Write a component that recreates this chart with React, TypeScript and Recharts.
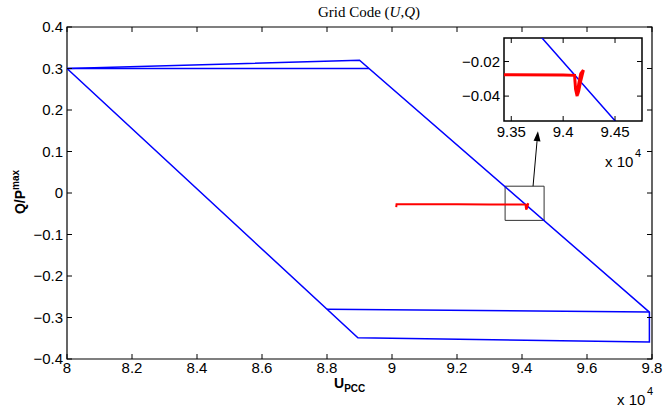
import React from 'react';
import { LineChart, Line, XAxis, YAxis, ReferenceArea, ReferenceLine } from 'recharts';

// ---- data (x in units of 10^4) ----
const loopX = [8.0, 8.9, 9.792, 9.792, 8.895, 8.0];
const loopY = [0.3, 0.32, -0.287, -0.359, -0.349, 0.3];
const topX = [8.0, 8.929];
const topY = [0.3, 0.3];
const lowX = [8.8, 9.792];
const lowY = [-0.28, -0.287];
const redX = [9.013, 9.014, 9.1, 9.2, 9.3, 9.35, 9.4, 9.411, 9.412, 9.4135, 9.415, 9.417, 9.4195, 9.417, 9.415, 9.414, 9.416, 9.418];
const redY = [-0.034, -0.027, -0.0272, -0.0274, -0.0276, -0.0277, -0.0278, -0.028, -0.036, -0.04, -0.033, -0.027, -0.025, -0.031, -0.037, -0.039, -0.032, -0.028];

const xTicks = [8, 8.2, 8.4, 8.6, 8.8, 9, 9.2, 9.4, 9.6, 9.8];
const yTicks = [-0.4, -0.3, -0.2, -0.1, 0, 0.1, 0.2, 0.3, 0.4];
const insetXTicks = [9.35, 9.4, 9.45];
const insetYTicks = [-0.04, -0.02];
const insetXDomain = [9.343, 9.476];
const insetYDomain = [-0.0544, -0.0064];
const zoomBoxX = [9.348, 9.468];
const zoomBoxY = [-0.066, 0.0164];
const arrowX = [9.434, 9.449];
const arrowY = [0.0164, 0.149];

const zip = (xs: number[], ys: number[]) => xs.map((x, i) => ({ x, y: ys[i] }));
const loopData = zip(loopX, loopY);
const topData = zip(topX, topY);
const lowData = zip(lowX, lowY);
const redData = zip(redX, redY);

const FONT = '"Liberation Sans", Arial, Helvetica, sans-serif';
const fmt = (v: number) => {
  const s = String(Number(v.toFixed(3)));
  return s.startsWith('-') ? '\u2212' + s.slice(1) : s;
};

// main plot frame (pixels)
const M = { top: 27, bottom: 359, left: 67, right: 652 };
// inset plot frame relative to its chart
const I = { top: 8, bottom: 91, left: 60, right: 198 };

const makeXTick = (F: typeof M) => (props: any) => {
  const { x, y, payload } = props;
  return (
    <g>
      <line x1={x} x2={x} y1={F.bottom} y2={F.bottom - 5} stroke="#000" />
      <line x1={x} x2={x} y1={F.top} y2={F.top + 5} stroke="#000" />
      <text x={x} y={y} dy="0.71em" textAnchor="middle" fontFamily={FONT} fontSize={15} fill="#000">
        {fmt(payload.value)}
      </text>
    </g>
  );
};
const makeYTick = (F: typeof M) => (props: any) => {
  const { x, y, payload } = props;
  return (
    <g>
      <line x1={F.left} x2={F.left + 5} y1={y} y2={y} stroke="#000" />
      <line x1={F.right} x2={F.right - 5} y1={y} y2={y} stroke="#000" />
      <text x={x} y={y} dy="0.355em" textAnchor="end" fontFamily={FONT} fontSize={15} fill="#000">
        {fmt(payload.value)}
      </text>
    </g>
  );
};

const Arrow = (props: any) => {
  const { x1, y1, x2, y2 } = props;
  const ang = Math.atan2(y2 - y1, x2 - x1);
  const L = 10, W = 3.5;
  const bx = x2 - L * Math.cos(ang), by = y2 - L * Math.sin(ang);
  const px = -Math.sin(ang) * W, py = Math.cos(ang) * W;
  return (
    <g>
      <line x1={x1} y1={y1} x2={bx} y2={by} stroke="#000" strokeWidth={1} />
      <polygon points={`${x2},${y2} ${bx + px},${by + py} ${bx - px},${by - py}`} fill="#000" />
    </g>
  );
};

export default function App() {
  return (
    <div style={{ position: 'absolute', left: 0, top: 0, width: 663, height: 411, background: '#fff' }}>
      <div style={{ position: 'absolute', left: 0, top: 0 }}>
        <LineChart width={663} height={411} margin={{ top: 27, right: 11, bottom: 22, left: 7 }}>
          <XAxis dataKey="x" type="number" domain={[8, 9.8]} ticks={xTicks} interval={0}
            axisLine={false} tickLine={false} tickSize={0} tickMargin={3} height={30}
            tick={makeXTick(M)} allowDataOverflow />
          <YAxis dataKey="y" type="number" domain={[-0.4, 0.4]} ticks={yTicks} interval={0}
            axisLine={false} tickLine={false} tickSize={0} tickMargin={4} width={60}
            tick={makeYTick(M)} allowDataOverflow />
          <ReferenceArea x1={8} x2={9.8} y1={-0.4} y2={0.4} fill="none" fillOpacity={0} stroke="#000" strokeWidth={1.2} />
          <Line data={loopData} dataKey="y" stroke="#0000ff" strokeWidth={1.5} dot={false} isAnimationActive={false} />
          <Line data={topData} dataKey="y" stroke="#0000ff" strokeWidth={1.5} dot={false} isAnimationActive={false} />
          <Line data={lowData} dataKey="y" stroke="#0000ff" strokeWidth={1.5} dot={false} isAnimationActive={false} />
          <Line data={redData} dataKey="y" stroke="#ff0000" strokeWidth={2} dot={false} isAnimationActive={false} />
          <ReferenceArea x1={zoomBoxX[0]} x2={zoomBoxX[1]} y1={zoomBoxY[0]} y2={zoomBoxY[1]} fill="none" fillOpacity={0} stroke="#333" strokeWidth={1} />
          <ReferenceLine segment={[{ x: arrowX[0], y: arrowY[0] }, { x: arrowX[1], y: arrowY[1] }]} shape={Arrow} />
        </LineChart>
      </div>
      <div style={{ position: 'absolute', left: 444, top: 30 }}>
        <LineChart width={210} height={116} margin={{ top: 8, right: 12, bottom: 0, left: 0 }}>
          <XAxis dataKey="x" type="number" domain={insetXDomain} ticks={insetXTicks} interval={0}
            axisLine={false} tickLine={false} tickSize={0} tickMargin={5} height={25}
            tick={makeXTick(I as any)} allowDataOverflow />
          <YAxis dataKey="y" type="number" domain={insetYDomain} ticks={insetYTicks} interval={0}
            axisLine={false} tickLine={false} tickSize={0} tickMargin={4} width={60}
            tick={makeYTick(I as any)} allowDataOverflow />
          <ReferenceArea x1={insetXDomain[0]} x2={insetXDomain[1]} y1={insetYDomain[0]} y2={insetYDomain[1]} fill="#fff" fillOpacity={1} stroke="#000" strokeWidth={1.5} />
          <Line data={loopData} dataKey="y" stroke="#0000ff" strokeWidth={1.5} dot={false} isAnimationActive={false} />
          <Line data={redData} dataKey="y" stroke="#ff0000" strokeWidth={3} dot={false} isAnimationActive={false} />
        </LineChart>
      </div>
      <svg width={663} height={411} style={{ position: 'absolute', left: 0, top: 0, pointerEvents: 'none' }}>
        <text x={369} y={17} textAnchor="middle" fontFamily='"Liberation Serif", "DejaVu Serif", serif' fontSize={15} fill="#000">
          Grid Code (<tspan fontStyle="italic">U</tspan>,<tspan fontStyle="italic">Q</tspan>)
        </text>
        <text x={334} y={388} fontFamily={FONT} fontSize={14} fontWeight="bold" fill="#000">
          U<tspan fontSize={10} dy={4}>PCC</tspan>
        </text>
        <text transform="translate(24.5,192) rotate(-90)" textAnchor="middle" fontFamily={FONT} fontSize={14} fontWeight="bold" fill="#000">
          Q/P<tspan fontSize={10} dy={-6}>max</tspan>
        </text>
        <text x={617} y={405} fontFamily={FONT} fontSize={15} fill="#000">x 10</text>
        <text x={647} y={395} fontFamily={FONT} fontSize={11} fill="#000">4</text>
        <text x={605} y={167} fontFamily={FONT} fontSize={15} fill="#000">x 10</text>
        <text x={635} y={157} fontFamily={FONT} fontSize={11} fill="#000">4</text>
      </svg>
    </div>
  );
}
